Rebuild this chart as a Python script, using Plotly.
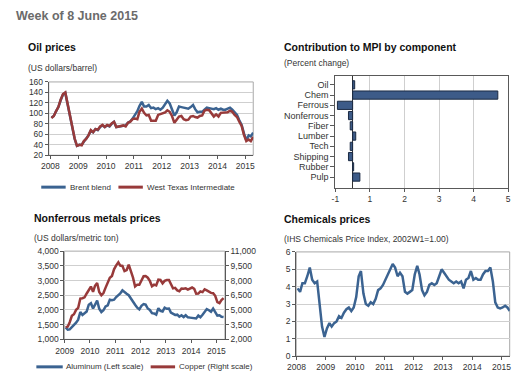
import pandas as pd
import plotly.graph_objects as go

# ---------------- data ----------------
oil_dates = pd.date_range("2008-01-01", "2015-04-01", freq="MS") + pd.Timedelta(days=14)
brent = [
    92, 95, 104, 112, 125, 136, 139, 115, 96, 71, 51, 38,
    40, 40, 47, 52, 58, 67, 64, 70, 68, 74, 77, 74,
    77, 75, 80, 84, 74, 75, 76, 77, 77, 82, 85, 90,
    96, 104, 114, 122, 113, 113, 116, 110, 111, 108, 110, 107,
    111, 119, 124, 119, 109, 96, 102, 113, 112, 111, 109, 109,
    112, 116, 108, 102, 103, 103, 107, 111, 110, 109, 108, 110,
    107, 109, 107, 107, 109, 111, 107, 102, 97, 87, 78, 62,
    49, 58, 56, 63,
]
wti = [
    91, 95, 104, 112, 126, 137, 140, 116, 97, 72, 52, 38,
    40, 39, 47, 51, 58, 68, 64, 70, 69, 75, 78, 74,
    78, 76, 81, 84, 74, 75, 76, 77, 75, 82, 84, 89,
    90, 89, 103, 109, 101, 96, 97, 86, 86, 86, 97, 99,
    100, 102, 106, 103, 95, 82, 88, 94, 95, 89, 87, 88,
    94, 95, 93, 92, 95, 96, 105, 107, 106, 101, 94, 98,
    94, 101, 101, 102, 102, 105, 103, 97, 93, 84, 76, 59,
    47, 50, 47, 55,
]

metal_dates = pd.date_range("2009-01-01", "2015-04-01", freq="MS") + pd.Timedelta(days=14)
aluminum = [
    1410, 1330, 1340, 1420, 1460, 1570, 1670, 1930, 1830, 1880, 1950, 2180,
    2230, 2050, 2200, 2320, 2040, 1930, 1990, 2120, 2160, 2350, 2330, 2350,
    2440, 2510, 2560, 2670, 2600, 2550, 2500, 2380, 2290, 2180, 2080, 2020,
    2140, 2200, 2180, 2050, 2000, 1890, 1880, 1840, 2060, 1970, 1950, 2080,
    2040, 2050, 1910, 1860, 1830, 1840, 1770, 1820, 1760, 1820, 1750, 1740,
    1730, 1700, 1710, 1810, 1750, 1840, 1950, 2030, 1990, 1940, 2050, 1910,
    1810, 1820, 1770, 1760,
]
copper = [
    3220, 3310, 3750, 4410, 4570, 5010, 5220, 6170, 6200, 6290, 6680, 6980,
    7390, 6850, 7460, 7750, 6840, 6500, 6730, 7280, 7710, 8290, 8470, 9150,
    9550, 9870, 9530, 9490, 8960, 9070, 9620, 9040, 8300, 7390, 7580, 7570,
    8040, 8440, 8460, 8290, 7960, 7420, 7580, 7510, 8090, 8060, 7710, 7970,
    8050, 8060, 7650, 7200, 7250, 7000, 6910, 7190, 7160, 7200, 7070, 7210,
    7290, 7150, 6650, 6670, 6890, 6820, 7110, 7000, 6870, 6740, 6710, 6450,
    5800, 5700, 6000, 6200,
]

chem_dates = oil_dates
chem_index = [
    3.9, 3.7, 4.2, 4.2, 4.6, 5.1, 4.4, 4.2, 4.3, 3.0, 1.7, 1.1,
    1.6, 1.9, 1.7, 1.9, 2.0, 2.3, 2.2, 2.5, 2.7, 2.8, 2.6, 2.8,
    3.4, 4.6, 4.9, 3.6, 3.0, 2.9, 3.1, 3.0, 3.3, 3.8, 3.9, 4.1,
    4.4, 4.7, 5.0, 5.3, 5.1, 4.6, 4.8, 4.6, 3.7, 3.6, 3.7, 3.8,
    4.7, 5.2, 4.7, 3.8, 3.5, 3.7, 4.1, 4.2, 4.1, 4.2, 4.6, 5.0,
    4.8, 4.6, 4.4, 4.3, 4.2, 4.3, 4.2, 4.3, 3.9, 4.4, 4.5, 4.9,
    4.4, 4.5, 4.4, 4.4, 4.7, 4.9, 4.9, 5.1, 4.3, 3.1, 2.8, 2.75,
    2.8, 2.9, 2.8, 2.6,
]

mpi_components = ["Oil", "Chem", "Ferrous", "Nonferrous", "Fiber",
                  "Lumber", "Tech", "Shipping", "Rubber", "Pulp"]
mpi_contrib = [0.06, 4.2, -0.44, -0.12, -0.07, 0.09, -0.07, -0.12, 0.03, 0.21]
mpi_tick_vals = [-0.5, 0.5, 1.5, 2.5, 3.5, 4.5]
mpi_tick_text = ["-1", "1", "2", "3", "4", "5"]

year_ticks_oil = [f"{y}-01-01" for y in range(2008, 2016)]
year_ticks_metal = [f"{y}-01-01" for y in range(2009, 2016)]

# ---------------- styling helpers ----------------
W, H = 521, 385
def px(x):
    return x / W
def py(y):
    return 1 - y / H

FONT = "Arial, 'Liberation Sans', sans-serif"
BLUE = "#3b6391"
RED = "#983a3a"
GRID = "#cfcfcf"
AXIS = "#595959"
BOX = "#a8a8a8"
TICKFONT = dict(family=FONT, size=8.5, color="#333333")

fig = go.Figure()

# Oil prices
fig.add_trace(go.Scatter(x=oil_dates, y=brent, name="Brent blend", mode="lines",
                         line=dict(color=BLUE, width=2.5), xaxis="x", yaxis="y"))
fig.add_trace(go.Scatter(x=oil_dates, y=wti, name="West Texas Intermediate", mode="lines",
                         line=dict(color=RED, width=2.5), xaxis="x", yaxis="y"))

# MPI bars
fig.add_trace(go.Bar(x=mpi_contrib, y=mpi_components, orientation="h",
                     marker=dict(color="#3d5b88", line=dict(color="#1b2a42", width=1)),
                     width=0.8, xaxis="x2", yaxis="y2"))

# Nonferrous
fig.add_trace(go.Scatter(x=metal_dates, y=aluminum, name="Aluminum (Left scale)", mode="lines",
                         line=dict(color=BLUE, width=2.5), xaxis="x3", yaxis="y3"))
fig.add_trace(go.Scatter(x=metal_dates, y=copper, name="Copper (Right scale)", mode="lines",
                         line=dict(color=RED, width=2.5), xaxis="x3", yaxis="y4"))

# Chemicals
fig.add_trace(go.Scatter(x=chem_dates, y=chem_index, mode="lines",
                         line=dict(color=BLUE, width=2.5), xaxis="x4", yaxis="y5"))

line_axis = dict(showline=True, linecolor=AXIS, linewidth=1, ticks="outside",
                 ticklen=3, tickcolor=AXIS, tickfont=TICKFONT, zeroline=False)

fig.update_layout(
    width=W, height=H, margin=dict(l=0, r=0, t=0, b=0), autosize=False,
    paper_bgcolor="white", plot_bgcolor="white",
    font=dict(family=FONT, size=9, color="#333333"),
    showlegend=False,
    # oil
    xaxis=dict(domain=[px(40.7), px(250)], anchor="y", type="date",
               range=["2007-12-11", "2015-04-16"], tickvals=year_ticks_oil,
               tickformat="%Y", showgrid=False, **line_axis),
    yaxis=dict(domain=[py(154.3), py(79)], anchor="x", range=[20, 160], dtick=20,
               showgrid=True, gridcolor=GRID, **line_axis),
    # mpi
    xaxis2=dict(domain=[px(334), px(511)], anchor="y2", range=[-0.501, 4.501],
                tickvals=mpi_tick_vals, ticktext=mpi_tick_text, showgrid=True,
                gridcolor=GRID, showline=True, mirror=True, linecolor=AXIS,
                ticks="outside", ticklen=3, tickcolor=AXIS, tickfont=TICKFONT,
                zeroline=True, zerolinecolor="#333333", zerolinewidth=1),
    yaxis2=dict(domain=[py(187.5), py(72.7)], anchor="x2", type="category",
                categoryorder="array", categoryarray=mpi_components,
                range=[10.03, -0.88], tickmode="linear", tick0=0, dtick=1,
                showgrid=False, showline=True, mirror=True,
                linecolor=AXIS, ticks="outside", ticklen=4, tickcolor=AXIS,
                tickfont=dict(family=FONT, size=9, color="#333333")),
    # nonferrous
    xaxis3=dict(domain=[px(56.7), px(221)], anchor="y3", type="date",
                range=["2008-12-28", "2015-05-04"], tickvals=year_ticks_metal,
                tickformat="%Y", showgrid=False, **line_axis),
    yaxis3=dict(domain=[py(343.3), py(252.7)], anchor="x3", range=[1000, 4000],
                tick0=1000, dtick=500, tickformat=",", showgrid=True, gridcolor=GRID,
                **line_axis),
    yaxis4=dict(overlaying="y3", side="right", anchor="x3", range=[2000, 11000],
                tick0=2000, dtick=1500, tickformat=",", showgrid=False, **line_axis),
    # chemicals
    xaxis4=dict(domain=[px(294), px(512.5)], anchor="y5", type="date",
                range=["2007-12-29", "2015-04-13"], tickvals=year_ticks_oil,
                tickformat="%Y", showgrid=False, **line_axis),
    yaxis5=dict(domain=[py(360.5), py(253.5)], anchor="x4", range=[0, 6], dtick=1,
                showgrid=True, gridcolor=GRID, **line_axis),
)

# light box borders around the line charts
for xr, yr in [("x", "y"), ("x3", "y3"), ("x4", "y5")]:
    fig.add_shape(type="rect", xref=f"{xr} domain", yref=f"{yr} domain",
                  x0=0, x1=1, y0=0, y1=1, line=dict(color=BOX, width=1),
                  fillcolor="rgba(0,0,0,0)", layer="below")

# legends (sample line + label)
legend_items = [
    ("Brent blend", BLUE, 33, 58, 60, 187),
    ("West Texas Intermediate", RED, 112, 137, 139, 187),
    ("Aluminum (Left scale)", BLUE, 28, 55, 56, 371.5),
    ("Copper (Right scale)", RED, 145, 170, 172, 371.5),
]
for name, col, x0, x1, xt, y in legend_items:
    fig.add_shape(type="line", xref="paper", yref="paper", x0=px(x0), x1=px(x1),
                  y0=py(y), y1=py(y), line=dict(color=col, width=3))
    fig.add_annotation(text=name, x=px(xt), y=py(y), xref="paper", yref="paper",
                       xanchor="left", yanchor="middle", showarrow=False,
                       font=dict(family=FONT, size=8, color="#333333"))

texts = [
    ("Week of 8 June 2015", 5, 11, 12.5, True, "#6b6b6b"),
    ("Oil prices", 17, 43, 10.5, True, "#111111"),
    ("(US dollars/barrel)", 17, 65, 8.5, False, "#333333"),
    ("Contribution to MPI by component", 279.5, 42.7, 10.5, True, "#111111"),
    ("(Percent change)", 279.5, 59.3, 8.5, False, "#333333"),
    ("Nonferrous metals prices", 24, 219, 10.5, True, "#111111"),
    ("(US dollars/metric ton)", 24, 239, 8.5, False, "#333333"),
    ("Chemicals prices", 279.5, 219.3, 10.5, True, "#111111"),
    ("(IHS Chemicals Price Index, 2002W1=1.00)", 279.5, 240, 8.5, False, "#333333"),
]
for t, x, y, s, b, c in texts:
    fig.add_annotation(text=f"<b>{t}</b>" if b else t, x=px(x), y=py(y),
                       xref="paper", yref="paper", xanchor="left", yanchor="middle",
                       showarrow=False, font=dict(family=FONT, size=s, color=c))

fig.write_html("out.html", config={"displayModeBar": False, "responsive": False},
               post_script="document.body.style.margin='0';")
